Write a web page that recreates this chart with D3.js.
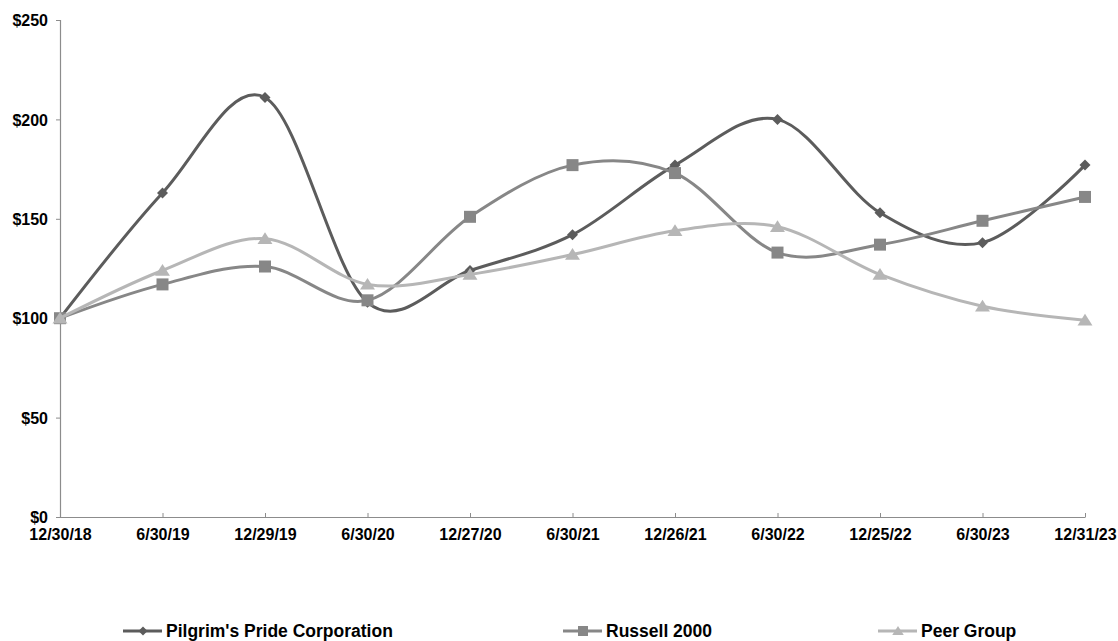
<!DOCTYPE html>
<html>
<head>
<meta charset="utf-8">
<script src="https://cdn.jsdelivr.net/npm/d3@7"></script>
<style>
  html, body { margin: 0; padding: 0; background: #fff; }
  svg { display: block; }
  text { font-family: "Liberation Sans", Arial, sans-serif; font-weight: bold; fill: #000; }
</style>
</head>
<body>
<svg id="chart" width="1118" height="641"></svg>
<script>
const categories = ["12/30/18","6/30/19","12/29/19","6/30/20","12/27/20","6/30/21","12/26/21","6/30/22","12/25/22","6/30/23","12/31/23"];
const pilgrims = [100, 163, 211, 108, 124, 142, 177, 200, 153, 138, 177];
const russell  = [100, 117, 126, 109, 151, 177, 173, 133, 137, 149, 161];
const peer     = [100, 124, 140, 117, 122, 132, 144, 146, 122, 106, 99];
const yTicks = [0, 50, 100, 150, 200, 250];
const seriesNames = ["Pilgrim's Pride Corporation", "Russell 2000", "Peer Group"];

const series = [
  { name: seriesNames[0], values: pilgrims, color: "#5c5c5c", marker: "diamond", legendX: 123 },
  { name: seriesNames[1], values: russell,  color: "#878787", marker: "square",  legendX: 563 },
  { name: seriesNames[2], values: peer,     color: "#b6b6b6", marker: "triangle", legendX: 878 }
];

const svg = d3.select("#chart");
const x = d3.scalePoint().domain(categories).range([60, 1085]);
const y = d3.scaleLinear().domain([0, 250]).range([517, 20]);

// custom marker types
const diamond = { draw(ctx, s) { ctx.moveTo(0, -s); ctx.lineTo(s, 0); ctx.lineTo(0, s); ctx.lineTo(-s, 0); ctx.closePath(); } };
const square = { draw(ctx, s) { ctx.rect(-s, -s, 2 * s, 2 * s); } };
const triangle = { draw(ctx, s) { ctx.moveTo(0, -s); ctx.lineTo(s * 1.15, s * 0.8); ctx.lineTo(-s * 1.15, s * 0.8); ctx.closePath(); } };
const markerTypes = { diamond, square, triangle };
const markerSize = { diamond: 5.5, square: 6, triangle: 6.5 };
const legendMarkerSize = { diamond: 4.5, square: 5, triangle: 5 };

// axes
const axisColor = "#8c8c8c";
const tickFont = "16px";
const yAxis = d3.axisLeft(y).tickValues(yTicks).tickSize(4).tickFormat(d => "$" + d);
const gy = svg.append("g").attr("transform", "translate(60,0)").call(yAxis);
gy.select(".domain").attr("stroke", axisColor).attr("stroke-width", 1.2);
gy.selectAll(".tick line").attr("stroke", axisColor);
gy.selectAll(".tick text").attr("x", -12).attr("dy", "0.36em").style("font-size", tickFont).style("font-family", "'Liberation Sans', Arial, sans-serif").style("font-weight", "bold").attr("fill", "#000");

const xAxis = d3.axisBottom(x).tickSize(-4).tickSizeOuter(0);
const gx = svg.append("g").attr("transform", "translate(0,517)").call(xAxis);
gx.select(".domain").attr("stroke", axisColor).attr("stroke-width", 1.2);
gx.selectAll(".tick line").attr("stroke", axisColor);
gx.selectAll(".tick text").attr("y", 12).attr("dy", "0.71em").style("font-size", tickFont).style("font-family", "'Liberation Sans', Arial, sans-serif").style("font-weight", "bold").attr("fill", "#000");

// lines
const line = d3.line()
  .x((d, i) => x(categories[i]))
  .y(d => y(d))
  .curve(d3.curveCatmullRom.alpha(0));

series.forEach(s => {
  svg.append("path")
    .datum(s.values)
    .attr("fill", "none")
    .attr("stroke", s.color)
    .attr("stroke-width", 3)
    .attr("d", line);
  svg.append("g").selectAll("path")
    .data(s.values)
    .join("path")
    .attr("transform", (d, i) => `translate(${x(categories[i])},${y(d)})`)
    .attr("d", d3.symbol().type(markerTypes[s.marker]).size(markerSize[s.marker]))
    .attr("fill", s.color);
});

// legend
const legendY = 631;
series.forEach(s => {
  const g = svg.append("g").attr("transform", `translate(${s.legendX},${legendY})`);
  g.append("line").attr("x1", 0).attr("x2", 39).attr("y1", 0).attr("y2", 0)
    .attr("stroke", s.color).attr("stroke-width", 3);
  g.append("path").attr("transform", "translate(20,0)")
    .attr("d", d3.symbol().type(markerTypes[s.marker]).size(legendMarkerSize[s.marker]))
    .attr("fill", s.color);
  g.append("text").attr("x", 43).attr("y", 6).style("font-size", "17.5px").text(s.name);
});
</script>
</body>
</html>
